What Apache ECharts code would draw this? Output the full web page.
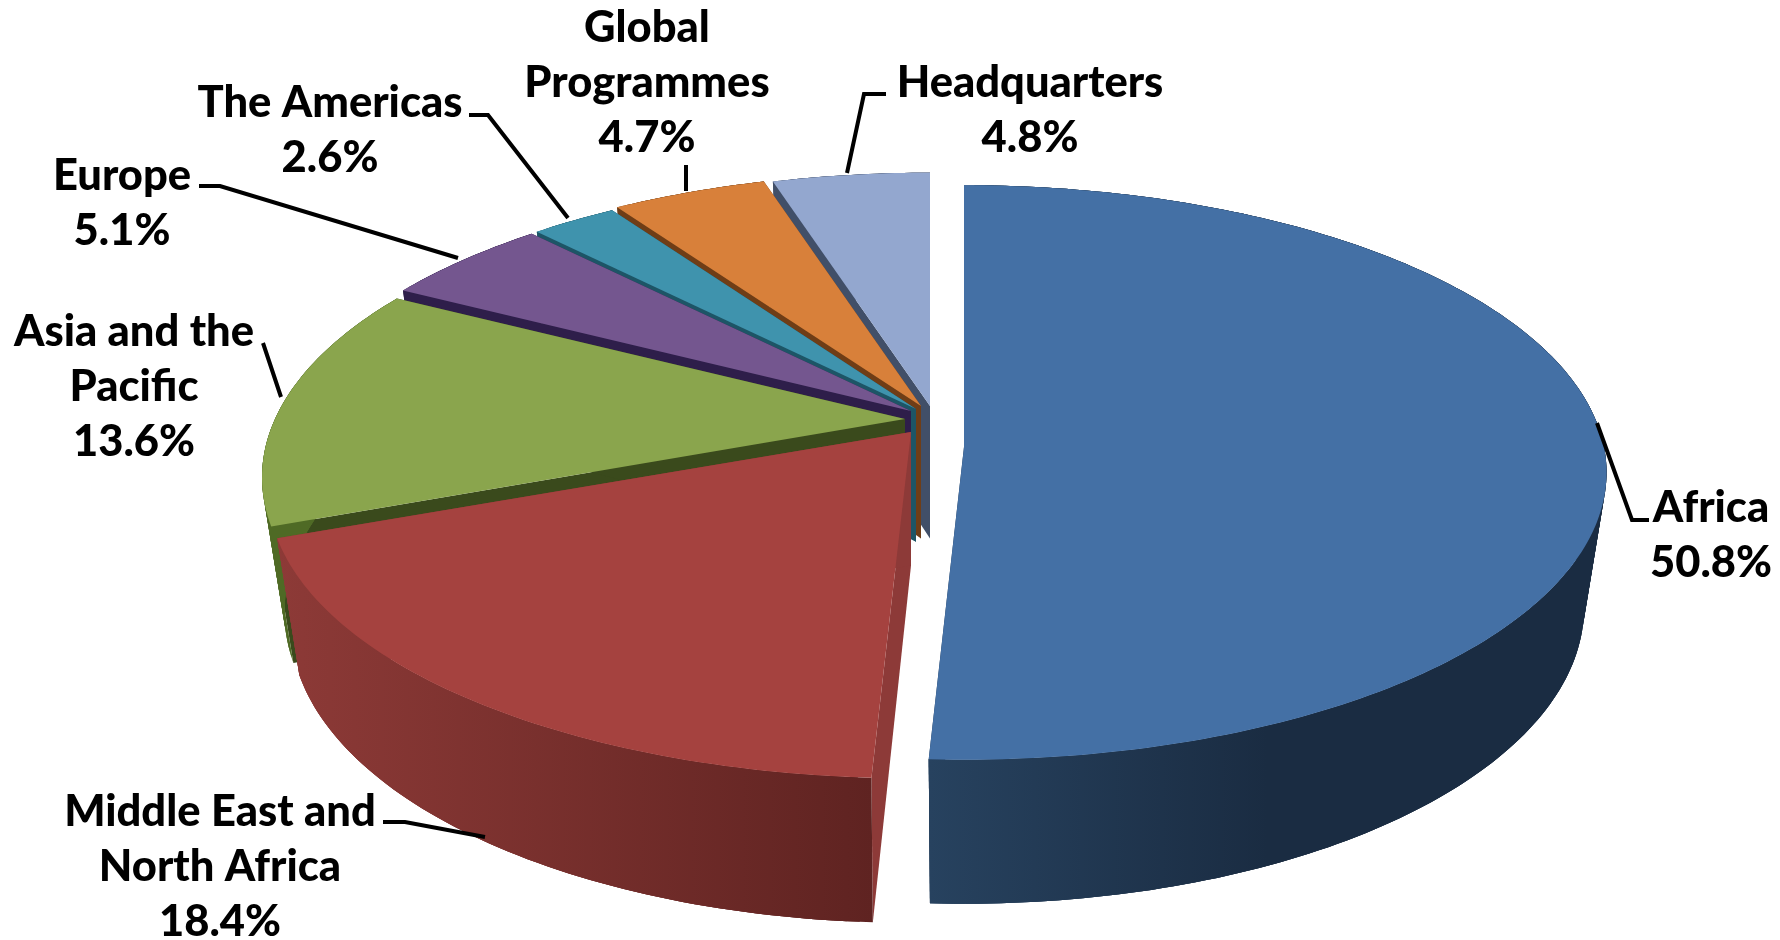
<!DOCTYPE html>
<html>
<head>
<meta charset="utf-8">
<style>html,body{margin:0;padding:0;background:#fff}#c{width:1780px;height:940px}</style>
<script src="https://cdn.jsdelivr.net/npm/echarts@6/dist/echarts.min.js"></script>
</head>
<body>
<div id="c"></div>
<script>
var categories = ["Africa", "Middle East and\nNorth Africa", "Asia and the\nPacific", "Europe", "The Americas", "Global\nProgrammes", "Headquarters"];
var shares = [50.8, 18.4, 13.6, 5.1, 2.6, 4.7, 4.8];

// per-slice look (presentation only)
var topColors = ["#4470a5", "#a5423f", "#8aa54d", "#74568f", "#3f93ad", "#d8803a", "#93a7cf"];
var wallColors = ["#1f3550", "#8d3a38", "#3a4a1c", "#2e1e4a", "#1d5566", "#6f3d16", "#414f68"];
var outerFrom = ["#27425f", "#8d3a37", "#4f6a25", "#2e1e4a", "#1d5566", "#6f3d16", "#414f68"];
var outerTo = ["#1a2c42", "#5f2321", "#4f6a25", "#2e1e4a", "#1d5566", "#6f3d16", "#414f68"];
var apexX = [964, 911, 905, 911, 916, 921, 930];
var apexY = [447, 432, 419, 411, 409, 406, 406];
var radX = [640, 630, 630, 630, 630, 630, 630];
var radY = [285, 277, 280, 280, 280, 280, 280];
var persp = [0.0887, 0.2, 0.2, 0.2, 0.2, 0.2, 0.2];
var labelCenterX = [1711, 220, 134, 122, 330, 647, 1030];
var labelTopY = [508, 812, 332, 176, 103, 28, 83];
var leaders = [
  [[1597, 423], [1632, 520], [1649, 520]],
  [[383, 822], [405, 822], [485, 837]],
  [[263, 343], [281, 397]],
  [[199, 186], [220, 186], [458, 258]],
  [[469, 115], [488, 115], [568, 218]],
  [[686, 165], [686, 191]],
  [[886, 94], [864, 94], [847, 173]]
];
var drawDepth = [60, 50, 40, 30, 20, 10, 0];
var lineGap = 55;
var fontSize = 43.5;
var shrink = 0.965;

function wallHeight(y) { return 125 + (y - 173) * 19 / 587; }

var total = shares.reduce(function (a, b) { return a + b; }, 0);
var starts = [], acc = 0;
shares.forEach(function (v) { starts.push(acc / total * 2 * Math.PI); acc += v; });

function proj(i, a, r) {
  var X = Math.sin(a) * r, Y = Math.cos(a) * r, w = 1 + persp[i] * Y;
  return [apexX[i] + radX[i] * X / w, apexY[i] - radY[i] * Y / w];
}
function lower(i, p) {
  return [apexX[i] + (p[0] - apexX[i]) * shrink, p[1] + wallHeight(p[1])];
}

function renderItem(params, api) {
  var i = params.dataIndex;
  var share = api.value(0);
  var a0 = starts[i], a1 = a0 + share / total * 2 * Math.PI;
  var n = Math.max(4, Math.ceil((a1 - a0) / (Math.PI / 180)));
  var rim = [], rimLow = [];
  for (var k = 0; k <= n; k++) {
    var p = proj(i, a0 + (a1 - a0) * k / n, 1);
    rim.push(p);
    rimLow.push(lower(i, p));
  }
  var apex = [apexX[i], apexY[i]], apexLow = lower(i, apex);
  var z = drawDepth[i];
  var xs = rimLow.map(function (p) { return p[0]; }).concat(rim.map(function (p) { return p[0]; }));
  var minX = Math.min.apply(null, xs), maxX = Math.max.apply(null, xs);
  var grad = new echarts.graphic.LinearGradient(minX, 0, maxX, 0, [
    { offset: 0, color: outerFrom[i] },
    { offset: i === 0 ? 0.5 : 1, color: outerTo[i] },
    { offset: 1, color: outerTo[i] }
  ], true);
  var poly = function (points, fill, zz) {
    return { type: 'polygon', shape: { points: points }, style: { fill: fill }, z2: zz, silent: true };
  };
  var children = [
    poly([apex, rim[0], rimLow[0], apexLow], wallColors[i], z),
    poly([apex, rim[n], rimLow[n], apexLow], wallColors[i], z)
  ];
  for (var s = 0; s < n; s++) {
    var e = Math.min(n, s + 3);
    var strip = rim.slice(s, e + 1).concat(rimLow.slice(s, e + 1).reverse());
    children.push(poly(strip, grad, z + 1));
  }
  children.push(
    poly([apex].concat(rim), topColors[i], z + 2),
    {
      type: 'polyline', shape: { points: leaders[i] }, z2: 200, silent: true,
      style: { fill: null, stroke: '#000', lineWidth: 4 }
    },
    {
      type: 'text', x: labelCenterX[i], y: labelTopY[i] - lineGap / 2, z2: 201, silent: true,
      style: {
        text: categories[i] + '\n' + share.toFixed(1) + '%',
        font: '900 ' + fontSize + 'px Lato, "Open Sans", sans-serif',
        fill: '#000', align: 'center', verticalAlign: 'top', lineHeight: lineGap
      }
    }
  );
  return { type: 'group', children: children };
}

var chart = echarts.init(document.getElementById('c'), null, { renderer: 'canvas' });
chart.setOption({
  animation: false,
  backgroundColor: '#fff',
  series: [{
    type: 'custom',
    coordinateSystem: 'none',
    renderItem: renderItem,
    data: shares.map(function (v, i) { return { value: [v], name: categories[i] }; })
  }]
});
</script>
</body>
</html>
